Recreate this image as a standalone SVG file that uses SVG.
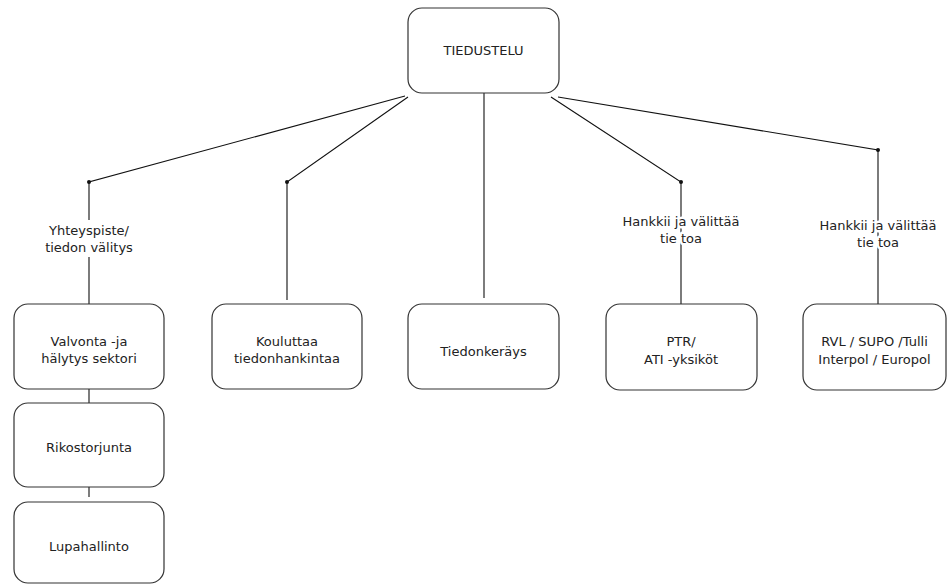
<svg xmlns="http://www.w3.org/2000/svg" width="948" height="585" viewBox="0 0 948 585">
  <style>
    .box { fill: #fff; stroke: #333; stroke-width: 1.2; }
    .lbl { font-family: Tahoma, "DejaVu Sans", sans-serif; font-size: 13px; fill: #222; text-anchor: middle; }
    .halo { stroke: #fff; stroke-width: 5; paint-order: stroke; stroke-linejoin: round; }
    .ln { stroke: #111; stroke-width: 1.1; fill: none; }
    .dot { fill: #111; }
  </style>
  <rect width="948" height="585" fill="#fff"/>

  <!-- connectors -->
  <g id="connectors">
    <path class="ln" d="M405 96 L89 182 L89 304"/>
    <path class="ln" d="M408 97 L287 182 L287 300"/>
    <path class="ln" d="M484 93 L484 298"/>
    <path class="ln" d="M551 97 L681 182 L681 304"/>
    <path class="ln" d="M558 97 L878 150 L878 304"/>
    <path class="ln" d="M89 389 L89 403"/>
    <path class="ln" d="M89 487 L89 497"/>
    <circle class="dot" cx="89" cy="182" r="2"/>
    <circle class="dot" cx="287" cy="182" r="2"/>
    <circle class="dot" cx="681" cy="182" r="2"/>
    <circle class="dot" cx="878" cy="150" r="2"/>
    <rect x="44" y="220" width="90" height="37" fill="#fff"/>
    <text class="lbl halo" x="89" y="235">Yhteyspiste/</text>
    <text class="lbl halo" x="89" y="252">tiedon välitys</text>
    <text class="lbl halo" x="681" y="226">Hankkii ja välittää</text>
    <text class="lbl halo" x="681" y="243">tie toa</text>
    <text class="lbl halo" x="878" y="230">Hankkii ja välittää</text>
    <text class="lbl halo" x="878" y="247">tie toa</text>
  </g>

  <g id="tiedustelu">
    <rect class="box" x="408" y="8" width="151" height="85" rx="14"/>
    <text class="lbl" x="483.5" y="55">TIEDUSTELU</text>
  </g>

  <g id="valvonta">
    <rect class="box" x="14" y="304" width="150" height="85" rx="14"/>
    <text class="lbl" x="89" y="346">Valvonta -ja</text>
    <text class="lbl" x="89" y="363">hälytys sektori</text>
  </g>

  <g id="rikostorjunta">
    <rect class="box" x="14" y="403" width="150" height="84" rx="14"/>
    <text class="lbl" x="89" y="452">Rikostorjunta</text>
  </g>

  <g id="lupahallinto">
    <rect class="box" x="14" y="502" width="150" height="81" rx="14"/>
    <text class="lbl" x="89" y="551">Lupahallinto</text>
  </g>

  <g id="kouluttaa">
    <rect class="box" x="212" y="304" width="150" height="85" rx="14"/>
    <text class="lbl" x="287" y="346">Kouluttaa</text>
    <text class="lbl" x="287" y="363">tiedonhankintaa</text>
  </g>

  <g id="tiedonkerays">
    <rect class="box" x="408" y="304" width="151" height="85" rx="14"/>
    <text class="lbl" x="483.5" y="356">Tiedonkeräys</text>
  </g>

  <g id="ptr">
    <rect class="box" x="606" y="304" width="151" height="86" rx="14"/>
    <text class="lbl" x="681" y="346">PTR/</text>
    <text class="lbl" x="681" y="364">ATI -yksiköt</text>
  </g>

  <g id="rvl">
    <rect class="box" x="803" y="304" width="143" height="86" rx="14"/>
    <text class="lbl" x="874.5" y="346">RVL / SUPO /Tulli</text>
    <text class="lbl" x="874.5" y="364">Interpol / Europol</text>
  </g>
</svg>
